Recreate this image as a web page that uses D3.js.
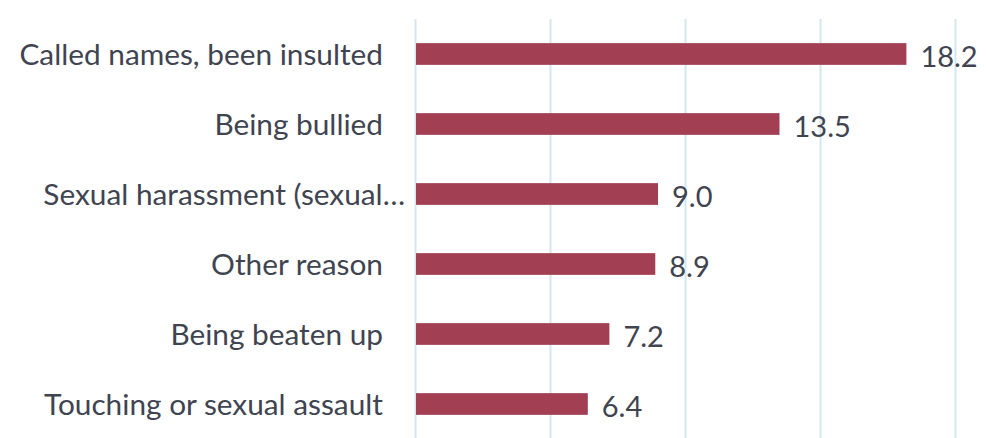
<!DOCTYPE html>
<html>
<head>
<meta charset="utf-8">
<script src="https://cdn.jsdelivr.net/npm/d3@7/dist/d3.min.js"></script>
<style>
  html, body { margin: 0; padding: 0; background: #ffffff; }
  svg { display: block; }
  text { font-family: Lato, "Open Sans", sans-serif; fill: #404450; }
</style>
</head>
<body>
<svg id="chart" width="986" height="438"></svg>
<script>
const categories = [
  "Called names, been insulted",
  "Being bullied",
  "Sexual harassment (sexual…",
  "Other reason",
  "Being beaten up",
  "Touching or sexual assault"
];
const values = [18.2, 13.5, 9.0, 8.9, 7.2, 6.4];
const gridTicks = [0, 5, 10, 15, 20];

const svg = d3.select("#chart");
const margin = { left: 415, right: 31, top: 19, bottom: -1 };
const W = 986, H = 438;

const x = d3.scaleLinear().domain([0, 20]).range([margin.left, W - margin.right]);
const y = d3.scaleBand().domain(categories)
  .range([margin.top, H - margin.bottom]).paddingInner(0.69).paddingOuter(0.345);

// vertical gridlines
svg.append("g")
  .attr("transform", `translate(0,${margin.top})`)
  .call(d3.axisTop(x).tickValues(gridTicks).tickSize(-(H - margin.top - margin.bottom)).tickFormat(""))
  .call(g => g.select(".domain").remove())
  .call(g => g.selectAll("line").attr("stroke", "#d3e8ee").attr("stroke-width", 2));

// bars
svg.append("g").selectAll("rect")
  .data(values)
  .join("rect")
  .attr("x", x(0) + 1)
  .attr("y", (d, i) => y(categories[i]))
  .attr("width", d => x(d) - x(0) - 1)
  .attr("height", y.bandwidth())
  .attr("fill", "#a23f52");

// value labels
svg.append("g").selectAll("text")
  .data(values)
  .join("text")
  .attr("x", d => x(d) + 14)
  .attr("y", (d, i) => y(categories[i]) + y.bandwidth() / 2 + 1)
  .attr("dominant-baseline", "central")
  .attr("font-size", 29)
  .text(d => d.toFixed(1));

// category labels; a truncated label lets its ellipsis run past the text edge
svg.append("g").selectAll("text")
  .data(categories)
  .join("text")
  .attr("x", d => d.endsWith("…") ? 405 : 383)
  .attr("y", d => y(d) + y.bandwidth() / 2 - 1)
  .attr("dominant-baseline", "central")
  .attr("text-anchor", "end")
  .attr("font-size", 29.8)
  .text(d => d);
</script>
</body>
</html>
